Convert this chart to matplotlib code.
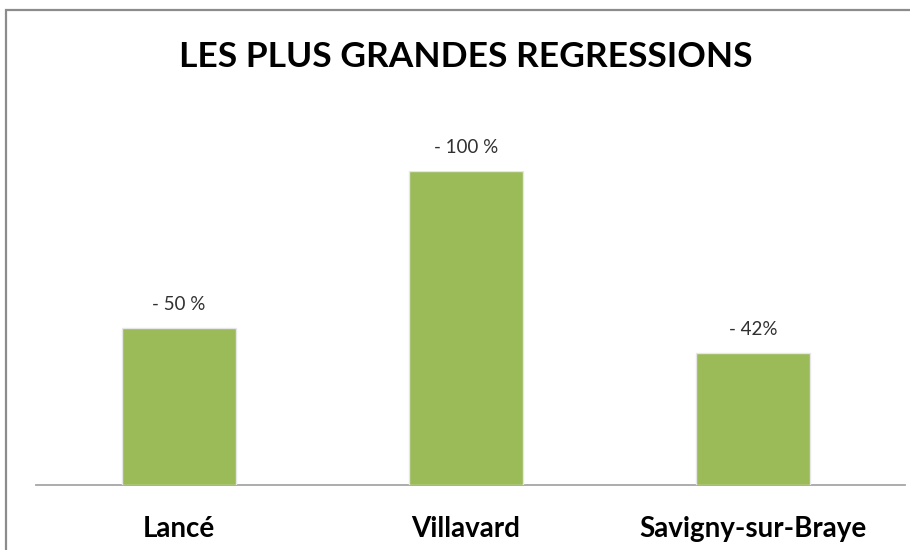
import matplotlib
matplotlib.use("Agg")
import matplotlib.pyplot as plt
from matplotlib.patches import Rectangle

categories = ["Lancé", "Villavard", "Savigny-sur-Braye"]
values = [50, 100, 42]
value_labels = ["- 50 %", "- 100 %", "- 42%"]
title = "LES PLUS GRANDES REGRESSIONS"

W, H = 910, 550
fig = plt.figure(figsize=(W / 100, H / 100), dpi=100)
fig.patch.set_facecolor("white")

# outer chart border (left and top visible)
fig.add_artist(Rectangle((6 / W, -0.1), 1.2, 1 - 10 / H + 0.1, transform=fig.transFigure,
                         fill=False, edgecolor="#8c8c8c", linewidth=1.6))

x0, x1 = 35.5, 896.5
base = 485
top = 171
ax = fig.add_axes([x0 / W, 1 - base / H, (x1 - x0) / W, (base - top) / H])
pos = list(range(len(categories)))
bars = ax.bar(pos, values, width=0.4, color="#9BBB59", edgecolor="#e6e6e6", linewidth=1.0, zorder=3)
ax.set_xlim(-0.5, len(categories) - 0.5)
ax.set_ylim(0, max(values))
for s in ["top", "right", "left"]:
    ax.spines[s].set_visible(False)
ax.spines["bottom"].set_color("#a6a6a6")
ax.spines["bottom"].set_linewidth(1.3)
ax.spines["bottom"].set_bounds(-0.5, 2.53)
ax.set_yticks([])
ax.set_xticks(pos)
ax.set_xticklabels(categories, fontsize=20, fontweight="bold", family="Lato")
ax.tick_params(axis="x", length=0, pad=22)

for b, lab in zip(bars, value_labels):
    ax.annotate(lab, (b.get_x() + b.get_width() / 2, b.get_height()), xytext=(0, 17),
                textcoords="offset points", ha="center", va="center",
                fontsize=13.5, color="#303030", family="Lato", annotation_clip=False)

fig.text(466 / W, 1 - 57 / H, title, ha="center", va="center", fontsize=25.5,
         fontweight="bold", family="Lato", color="black")

fig.savefig("out.png", dpi=100)
